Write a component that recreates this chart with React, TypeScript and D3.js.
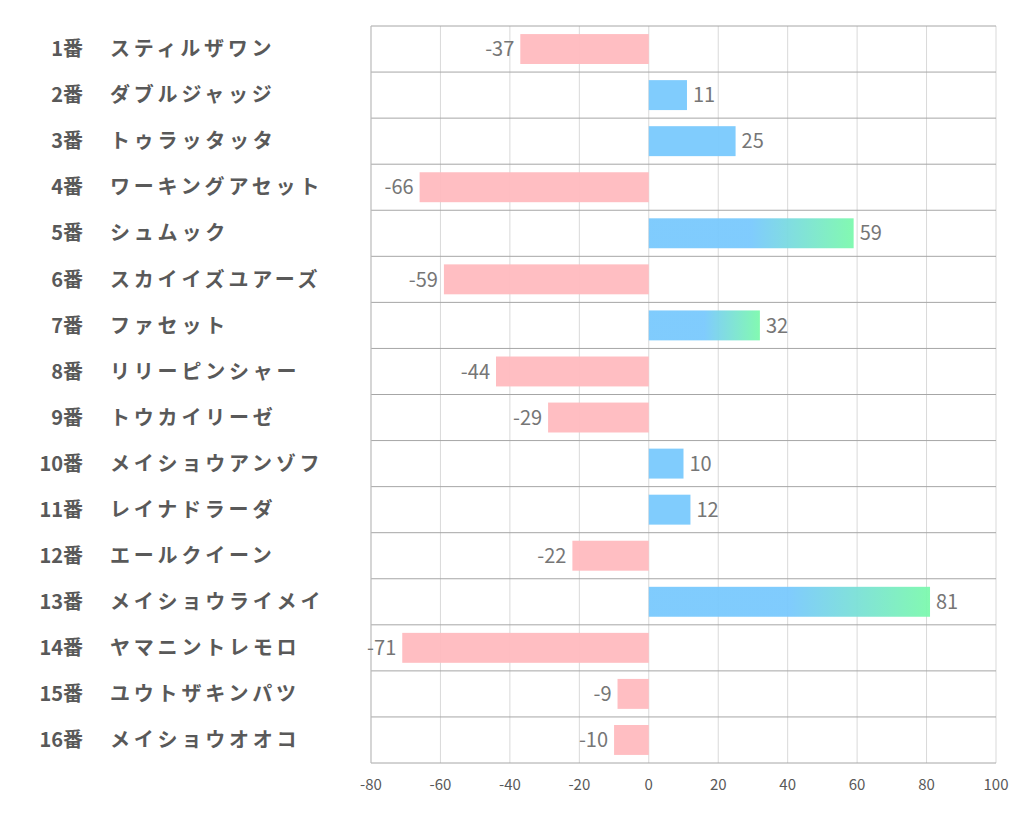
import React from "react";
import * as d3 from "d3";

const numbers = ["1番","2番","3番","4番","5番","6番","7番","8番","9番","10番","11番","12番","13番","14番","15番","16番"];
const names = ["スティルザワン","ダブルジャッジ","トゥラッタッタ","ワーキングアセット","シュムック","スカイイズユアーズ","ファセット","リリーピンシャー","トウカイリーゼ","メイショウアンゾフ","レイナドラーダ","エールクイーン","メイショウライメイ","ヤマニントレモロ","ユウトザキンパツ","メイショウオオコ"];
const values = [-37, 11, 25, -66, 59, -59, 32, -44, -29, 10, 12, -22, 81, -71, -9, -10];
const ticks = [-80, -60, -40, -20, 0, 20, 40, 60, 80, 100];

const W = 1022, H = 834;
const left = 371, right = 996, top = 26, bottom = 763;
const font = "'Noto Sans CJK JP', 'Noto Sans', sans-serif";

export default function App() {
  const x = d3.scaleLinear().domain([-80, 100]).range([left, right]);
  const y = d3.scaleBand<number>().domain(d3.range(values.length)).range([top, bottom]).paddingInner(0.35).paddingOuter(0.175);
  const rowH = (bottom - top) / values.length;
  return (
    <svg width={W} height={H} style={{ position: "absolute", left: 0, top: 0, background: "#fff" }}>
      <defs>
        <linearGradient id="posGrad" x1="0" x2="1" y1="0" y2="0">
          <stop offset="0.5" stopColor="#79c9fd" />
          <stop offset="1" stopColor="#7cf9ad" />
        </linearGradient>
      </defs>
      {ticks.map((t) => (
        <line key={"v" + t} x1={x(t)} x2={x(t)} y1={top} y2={bottom} stroke="#d9d9d9" strokeWidth={1} />
      ))}
      {values.map((v, i) => {
        const x0 = x(Math.min(0, v));
        const w = Math.abs(x(v) - x(0));
        const fill = v < 0 ? "#ffbbbf" : v >= 30 ? "url(#posGrad)" : "#79c9fd";
        return <rect key={"b" + i} x={x0} y={y(i)} width={w} height={y.bandwidth()} fill={fill} opacity={0.95} />;
      })}
      {d3.range(values.length + 1).map((k) => (
        <line key={"h" + k} x1={left} x2={right} y1={top + k * rowH} y2={top + k * rowH} stroke="#a6a6a6" strokeWidth={1} />
      ))}
      <line x1={left} x2={left} y1={top} y2={bottom} stroke="#bfbfbf" strokeWidth={1} />
      {values.map((v, i) => (
        <text
          key={"l" + i}
          x={v < 0 ? x(v) - 6 : x(v) + 6}
          y={(y(i) ?? 0) + y.bandwidth() / 2}
          dy="0.36em"
          textAnchor={v < 0 ? "end" : "start"}
          fontFamily={font}
          fontSize={20}
          fill="#767676"
        >
          {v}
        </text>
      ))}
      {values.map((_, i) => {
        const cy = top + (i + 0.5) * rowH;
        return (
          <g key={"c" + i} fontFamily={font} fontSize={20} fontWeight="bold" fill="#595959">
            <text x={83} y={cy} dy="0.36em" textAnchor="end">{numbers[i]}</text>
            <text x={110} y={cy} dy="0.36em" textAnchor="start" letterSpacing={3.8}>{names[i]}</text>
          </g>
        );
      })}
      {ticks.map((t) => (
        <text key={"t" + t} x={x(t)} y={785} dy="0.36em" textAnchor="middle" fontFamily={font} fontSize={15} fill="#595959">
          {t}
        </text>
      ))}
    </svg>
  );
}
